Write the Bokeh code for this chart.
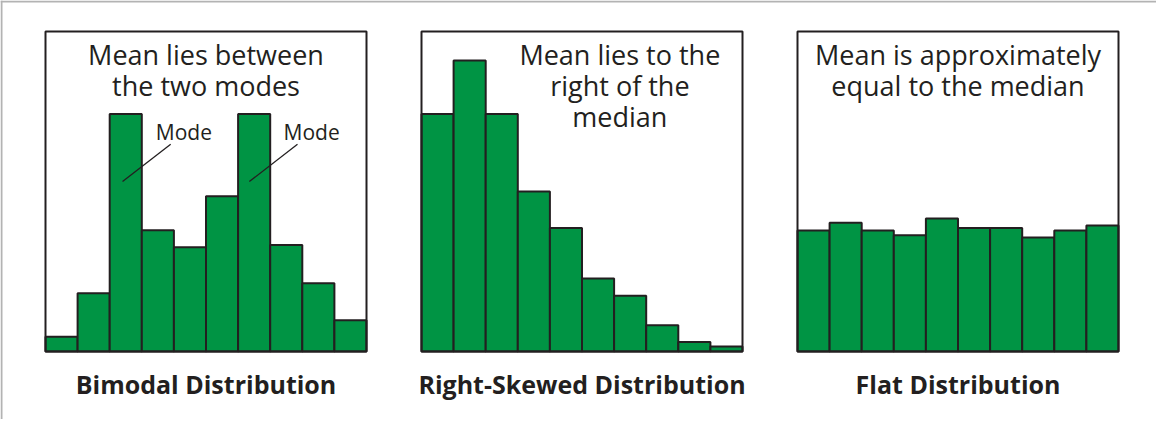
from bokeh.plotting import figure
from bokeh.models import Range1d, Span
from bokeh.core.properties import value
from bokeh.embed import file_html
from bokeh.resources import INLINE

# ---- data (bar heights as % of panel height) ----
bins = list(range(10))
bimodal = [4.6, 18.2, 74.2, 37.9, 32.6, 48.5, 74.2, 33.3, 21.3, 9.8]
right_skewed = [74.2, 90.9, 74.2, 50.0, 38.6, 22.8, 17.4, 8.2, 3.0, 1.6]
flat = [37.8, 40.2, 37.8, 36.3, 41.6, 38.6, 38.6, 35.6, 37.8, 39.4]

titles = ["Bimodal Distribution", "Right-Skewed Distribution", "Flat Distribution"]
notes_bimodal = ["Mean lies between", "the two modes"]
notes_skewed = ["Mean lies to the", "right of the", "median"]
notes_flat = ["Mean is approximately", "equal to the median"]
mode_labels = ["Mode", "Mode"]

# ---- layout ----
W, H = 1156, 419
panel_left = [45, 421, 797]      # px within canvas
bin_px = 32.1
panel_top_px, panel_h_px = 31, 320
unit_px = panel_h_px / 100.0
TEXT_DY = 8 / unit_px            # baseline correction for rendered text

GREEN = "#009444"
INK = "#231f20"
FONT = value("Open Sans")

y_start = -(H - panel_top_px - panel_h_px) / unit_px
y_end = 100 + panel_top_px / unit_px

p = figure(width=W, height=H, output_backend="svg", toolbar_location=None,
           x_range=Range1d(0, W), y_range=Range1d(y_start, y_end),
           x_axis_location=None, y_axis_location=None, min_border=0,
           outline_line_color=None, background_fill_color="white",
           border_fill_color="white")
p.grid.visible = False

p.extra_x_ranges = {
    f"p{k}": Range1d(-L / bin_px, (W - L) / bin_px) for k, L in enumerate(panel_left)
}

series = [bimodal, right_skewed, flat]
for k, vals in enumerate(series):
    rn = f"p{k}"
    p.quad(left=[b for b in bins], right=[b + 1 for b in bins], bottom=0, top=vals,
           fill_color=GREEN, line_color=INK, line_width=2, x_range_name=rn)
    p.quad(left=[0], right=[10], bottom=[0], top=[100], fill_color=None,
           line_color=INK, line_width=2, x_range_name=rn)
    p.text(x=[5], y=[-12.5 + TEXT_DY], text=[titles[k]], text_align="center",
           text_baseline="alphabetic", text_font=FONT, text_font_style="bold",
           text_font_size="25px", text_color=INK, x_range_name=rn)

LINE_STEP = 31 / unit_px
def notes(lines, xc, rn):
    p.text(x=[xc] * len(lines),
           y=[90.2 + TEXT_DY - LINE_STEP * i for i in range(len(lines))],
           text=lines, text_align="center", text_baseline="alphabetic",
           text_font=FONT, text_font_size="27px", text_color=INK, x_range_name=rn)

notes(notes_bimodal, 5, "p0")
notes(notes_skewed, 6.18, "p1")
notes(notes_flat, 5, "p2")

p.text(x=[4.31, 8.29], y=[66.25 + TEXT_DY] * 2, text=mode_labels, text_align="center",
       text_baseline="alphabetic", text_font=FONT, text_font_size="21px",
       text_color=INK, x_range_name="p0")
p.segment(x0=[2.40, 6.35], y0=[53.1, 53.1], x1=[3.90, 7.85], y1=[64.8, 64.8],
          line_color=INK, line_width=1.3, x_range_name="p0")

# outer light-grey frame (left and top edges)
p.add_layout(Span(location=1, dimension="height", line_color="#b3b3b3", line_width=2))
p.add_layout(Span(location=y_end - 1 / unit_px, dimension="width",
                  line_color="#b3b3b3", line_width=2))

open("out.html", "w").write(file_html(p, INLINE))
